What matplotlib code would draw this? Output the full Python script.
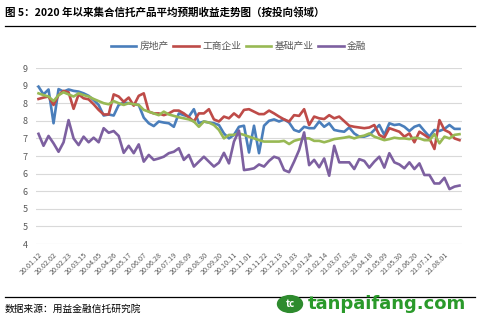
import matplotlib.pyplot as plt
from matplotlib.patches import Circle

plt.rcParams['font.family'] = ['Noto Sans CJK SC', 'DejaVu Sans']

# 周度数据：20.01.12 起，共 85 周
start_label = ['20.01.12', '20.02.02', '20.02.23', '20.03.15', '20.04.05', '20.04.26', '20.05.17',
               '20.06.07', '20.06.28', '20.07.19', '20.08.09', '20.08.30', '20.09.20', '20.10.11',
               '20.11.01', '20.11.22', '20.12.13', '21.01.03', '21.01.24', '21.02.14', '21.03.07',
               '21.03.28', '21.04.18', '21.05.09', '21.05.30', '21.06.20', '21.07.11', '21.08.01']

real_estate = [8.47, 8.25, 8.39, 7.43, 8.40, 8.33, 8.39, 8.35, 8.33, 8.28,
               8.21, 8.09, 7.95, 7.65, 7.68, 7.65, 7.95, 8.02, 8.00, 7.97,
               7.95, 7.59, 7.43, 7.35, 7.48, 7.45, 7.43, 7.33, 7.71, 7.66,
               7.62, 7.83, 7.43, 7.48, 7.45, 7.43, 7.38, 7.14, 7.00, 7.10,
               7.33, 7.36, 6.60, 7.36, 6.58, 7.36, 7.50, 7.54, 7.48, 7.54,
               7.45, 7.24, 7.19, 7.33, 7.29, 7.29, 7.48, 7.33, 7.43, 7.24,
               7.21, 7.19, 7.31, 7.14, 7.05, 7.05, 7.10, 7.24, 7.38, 7.10,
               7.43, 7.38, 7.40, 7.33, 7.21, 7.33, 7.38, 7.21, 7.05, 7.24,
               7.21, 7.27, 7.38, 7.27, 7.27]

industry = [8.12, 8.16, 8.19, 7.95, 8.23, 8.35, 8.31, 7.84, 8.25, 8.14,
            8.11, 7.97, 7.81, 7.68, 7.68, 8.25, 8.19, 8.04, 8.16, 7.93,
            8.21, 8.28, 7.76, 7.71, 7.71, 7.66, 7.71, 7.79, 7.79, 7.71,
            7.60, 7.48, 7.71, 7.71, 7.83, 7.54, 7.48, 7.62, 7.57, 7.71,
            7.60, 7.81, 7.83, 7.76, 7.69, 7.69, 7.79, 7.71, 7.62, 7.54,
            7.48, 7.66, 7.64, 7.83, 7.38, 7.62, 7.57, 7.55, 7.66, 7.57,
            7.62, 7.49, 7.36, 7.33, 7.31, 7.29, 7.31, 7.38, 7.10, 7.02,
            7.29, 7.24, 7.19, 7.05, 7.14, 6.89, 7.19, 7.10, 7.00, 6.70,
            7.52, 7.24, 7.17, 7.00, 6.95]

infrastructure = [8.28, 8.23, 8.19, 8.06, 8.23, 8.31, 8.25, 8.19, 8.28, 8.23,
                  8.19, 8.12, 8.06, 8.00, 7.97, 8.06, 8.00, 7.95, 8.00, 7.97,
                  7.95, 7.81, 7.76, 7.71, 7.66, 7.76, 7.68, 7.64, 7.60, 7.57,
                  7.54, 7.48, 7.33, 7.48, 7.45, 7.38, 7.24, 7.00, 7.10, 7.10,
                  7.14, 7.10, 7.05, 7.00, 6.95, 6.91, 6.91, 6.91, 6.91, 6.93,
                  6.84, 6.93, 6.97, 7.00, 7.00, 6.93, 6.93, 6.89, 6.93, 6.98,
                  7.00, 7.02, 7.05, 7.00, 7.05, 7.08, 7.14, 7.05, 7.00, 6.95,
                  6.98, 7.02, 7.00, 7.00, 6.98, 7.02, 7.00, 6.95, 6.95, 7.12,
                  6.86, 7.05, 7.00, 7.10, 7.12]

finance = [7.13, 6.79, 7.07, 6.86, 6.62, 6.89, 7.52, 7.00, 6.81, 7.05,
           6.89, 7.02, 6.89, 7.29, 7.16, 7.21, 7.07, 6.59, 6.79, 6.58,
           6.83, 6.34, 6.53, 6.39, 6.43, 6.48, 6.58, 6.62, 6.72, 6.39,
           6.53, 6.20, 6.34, 6.48, 6.34, 6.20, 6.31, 6.59, 6.29, 6.91,
           7.22, 6.10, 6.12, 6.15, 6.26, 6.20, 6.36, 6.48, 6.43, 6.10,
           6.04, 6.34, 6.67, 7.17, 6.24, 6.39, 6.18, 6.43, 5.94, 6.79,
           6.32, 6.32, 6.32, 6.13, 6.41, 6.36, 6.17, 6.34, 6.48, 6.17,
           6.58, 6.32, 6.26, 6.15, 6.32, 6.13, 6.29, 5.96, 5.96, 5.72,
           5.72, 5.88, 5.56, 5.63, 5.66]

series_names = ['房地产', '工商企业', '基础产业', '金融']
colors = ['#4a7ebb', '#be4b48', '#98b954', '#7d60a0']

fig = plt.figure(figsize=(4.8, 3.23), dpi=100)
ax = fig.add_axes([36 / 480, 1 - 244 / 323, 426 / 480, 176 / 323])

x = list(range(len(finance)))
for y, name, c in zip([real_estate, industry, infrastructure, finance], series_names, colors):
    ax.plot(x, y, color=c, lw=1.9, label=name, solid_joinstyle='round')

ax.set_xlim(-0.5, len(finance) - 0.5)
ax.set_ylim(4, 9)
yt = [4 + 0.5 * i for i in range(11)]
ax.set_yticks(yt)
ax.set_yticklabels([str(int(v + 0.5)) for v in yt])
ax.set_xticks(list(range(0, len(finance), 3))[:len(start_label)])
ax.set_xticklabels(start_label, rotation=45, ha='right', rotation_mode='anchor')
ax.tick_params(axis='y', length=0, pad=6, labelsize=6.5, labelcolor='#595959')
ax.tick_params(axis='x', length=0, pad=5, labelsize=5.2, labelcolor='#595959')
ax.grid(axis='y', color='#d9d9d9', lw=0.8)
ax.set_axisbelow(True)
for s in ax.spines.values():
    s.set_visible(False)

fig.legend(loc='center', bbox_to_anchor=(0.497, 1 - 46 / 323), ncol=4, frameon=False,
           fontsize=7, handlelength=2.6, handletextpad=0.35, columnspacing=0.5,
           labelcolor='#595959')

fig.text(5 / 480, 1 - 13 / 323, '图 5：2020 年以来集合信托产品平均预期收益走势图（按投向领域）',
         fontsize=7.6, fontweight='bold', va='center', ha='left')
fig.add_artist(plt.Line2D([5 / 480, 475 / 480], [1 - 26 / 323, 1 - 26 / 323], color='black', lw=0.9))
fig.add_artist(plt.Line2D([5 / 480, 475 / 480], [1 - 297 / 323, 1 - 297 / 323], color='black', lw=0.9))
fig.text(5 / 480, 1 - 309 / 323, '数据来源：用益金融信托研究院', fontsize=7, va='center', ha='left')

# 水印
fig.add_artist(Circle((290 / 480, 1 - 304 / 323), 0.026, transform=fig.transFigure,
                      color='#2e8b2e', zorder=5))
fig.text(290 / 480, 1 - 304 / 323, 'tc', color='white', fontsize=7, fontweight='bold',
         ha='center', va='center', zorder=6)
fig.text(308 / 480, 1 - 304 / 323, 'tanpaifang.com', color='#2a9a2a', fontsize=13,
         fontweight='bold', ha='left', va='center', family='DejaVu Sans', zorder=6)

fig.savefig('out.png', dpi=100)
